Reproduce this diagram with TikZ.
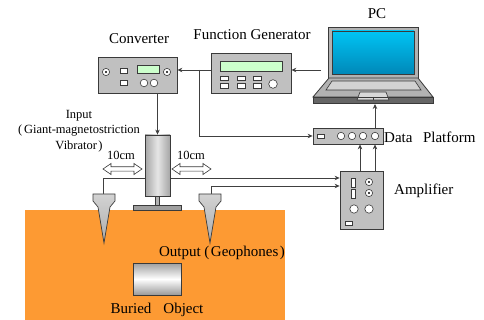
\documentclass[tikz,border=0pt]{standalone}
\usepackage{fontspec}
\setmainfont{Liberation Serif}
\usetikzlibrary{arrows.meta}
\definecolor{devfill}{HTML}{C0C0C0}
\definecolor{devline}{HTML}{3A3A3A}
\definecolor{wirecol}{HTML}{404040}
\definecolor{lcd}{HTML}{CCFFCC}
\definecolor{soil}{HTML}{FD9A33}
\definecolor{scrtop}{HTML}{00C4F4}
\definecolor{scrbot}{HTML}{0088B8}
\newcommand{\bigtxt}{\fontsize{15}{17}\selectfont}
\newcommand{\smalltxt}{\fontsize{12.5}{15.5}\selectfont}
% wide parentheses with a little air on their outer side
\newcommand{\fwl}{\hspace{0.25em}(\hspace{0.1em}}
\newcommand{\fwr}{\hspace{0.1em})\hspace{0.25em}}
\tikzset{
  device/.style={draw=devline, fill=devfill, line width=0.8pt, inner sep=0pt},
  knob/.style={draw=devline, fill=white, line width=0.6pt},
  keybox/.style={draw=devline, fill=white, line width=0.6pt},
  wire/.style={draw=wirecol, line width=0.7pt},
  arr/.style={wire, -{Stealth[length=5pt,width=4.5pt]}},
  label/.style={font=\bigtxt, inner sep=0pt},
  smalllabel/.style={font=\smalltxt, inner sep=0pt, align=center},
  hollowarrow/.style={draw=devline, fill=white, line width=0.6pt}
}
\newcommand{\dotknob}[1]{%
  \draw[knob] #1 circle (3.6);
  \fill[black] #1 circle (1.1);}
\begin{document}
\begin{tikzpicture}[x=1pt,y=-1pt]
\useasboundingbox (0,0) rectangle (484,320);

% ground
\fill[soil] (25,210) rectangle (285,320);

% ---------------- converter ----------------
\node[device, minimum width=79, minimum height=36] (conv) at (137.5,75) {};
\dotknob{(106,72)}
\dotknob{(167,72)}
\draw[keybox] (120,68) rectangle (127,73);
\draw[keybox] (120,80) rectangle (127,85);
\draw[keybox, fill=lcd] (137,65) rectangle (159,73);
\draw[knob] (144,83) circle (3.8);
\draw[knob] (154,83) circle (3.8);
\node[label] (convlab) at (139,39) {Converter};

% ---------------- function generator ----------------
\node[device, minimum width=80, minimum height=40] (fg) at (251,73) {};
\draw[keybox, fill=lcd] (220,61) rectangle (282,71);
\foreach \xx in {220,237,253}{
  \draw[keybox] (\xx,76) rectangle (\xx+8,80);
  \draw[keybox] (\xx,83) rectangle (\xx+8,88);
}
\draw[knob] (273,84) circle (4.3);
\node[label] (fglab) at (252,35) {Function Generator};

% ---------------- laptop ----------------
\node[device, fill=gray!60, minimum width=90, minimum height=51] (pc) at (373,52.5) {};
\draw[devline, line width=0.7pt, top color=scrtop, bottom color=scrbot] (332,31) rectangle (414,74);
\draw[devline, line width=0.8pt, fill=gray!60] (329,78) -- (418,78) -- (433,97) -- (313,97) -- cycle;
\draw[devline, line width=0.8pt, fill=gray!80!black] (313,97) rectangle (433,103);
\draw[devline, line width=0.6pt, fill=gray!35] (332,81) -- (415,81) -- (421,90) -- (326,90) -- cycle;
\draw[devline, line width=0.6pt, fill=gray!30] (360,92) -- (386,92) -- (389,100) -- (357,100) -- cycle;
\draw[devline, line width=0.5pt] (358,97) -- (388,97) (373,97) -- (373,100);
\coordinate (pcbase) at (375,104);
\node[label] (pclab) at (377,14) {PC};

% ---------------- data platform ----------------
\node[device, minimum width=70, minimum height=16] (dp) at (348,136) {};
\draw[keybox] (317,134) rectangle (324,138.5);
\foreach \xx in {341,352,363,375}{ \draw[knob] (\xx,136) circle (3.7); }
\node[label, anchor=west] (dplab) at (384,137) {Data\hspace{0.7em}Platform};

% ---------------- amplifier ----------------
\node[device, minimum width=43, minimum height=58] (amp) at (361.5,200) {};
\draw[keybox] (351,178) rectangle (355,187);
\draw[keybox] (351,189) rectangle (355,198);
\dotknob{(369,182)}
\dotknob{(369,193)}
\draw[knob] (354,209) circle (4.2);
\draw[knob] (369,209) circle (4.2);
\draw[keybox] (345,221) rectangle (352,225);
\node[label, anchor=west] (amplab) at (394,191) {Amplifier};

% ---------------- geophones and their leads ----------------
\coordinate (gl) at (103.5,194);
\coordinate (gr) at (211,194);
\coordinate (tapl) at (0,178);
\coordinate (tapr) at (0,186);
\draw[arr] (gl) -- (gl |- tapl) -- (amp.west |- tapl);
\draw[arr] (gr) -- (gr |- tapr) -- (amp.west |- tapr);
\foreach \gx in {93,199}{
  \draw[devline, line width=0.7pt, top color=gray!35, bottom color=gray!65]
    (\gx,194) -- (\gx+22,194) -- (\gx+22,201) -- (\gx+17,207) -- (\gx+11,243)
    -- (\gx+5,207) -- (\gx,201) -- cycle;
}

% ---------------- vibrator ----------------
\draw[devline, line width=0.7pt, fill=gray!60] (155.5,196) rectangle (159.5,205);
\draw[devline, line width=0.7pt, fill=gray!75] (133,205) rectangle (181,210);
\node[draw=devline, line width=0.8pt, minimum width=25, minimum height=61, inner sep=0pt,
      left color=gray!70, right color=gray!70, middle color=gray!20] (vib) at (157.5,165.5) {};
\node[smalllabel] (inlab) at (79,131) {Input\\(\hspace{0.15em}Giant-magnetostriction\\Vibrator\hspace{0.1em})\hspace{0.2em}};

% hollow double arrows with their distances
\foreach \ax in {103,172}{
  \draw[hollowarrow] (\ax,169) -- (\ax+8,163.5) -- (\ax+8,166.8) -- (\ax+31,166.8)
    -- (\ax+31,163.5) -- (\ax+39,169) -- (\ax+31,174.5) -- (\ax+31,171.2)
    -- (\ax+8,171.2) -- (\ax+8,174.5) -- cycle;
}
\node[smalllabel] (dl) at (121,155) {10cm};
\node[smalllabel] (dr) at (191,155) {10cm};

% ---------------- buried object ----------------
\node[draw=devline, line width=0.8pt, minimum width=48, minimum height=32, inner sep=0pt,
      top color=gray!75, bottom color=gray!80, middle color=white] (obj) at (157,279) {};
\node[label] (objlab) at (157,310) {Buried\hspace{0.8em}Object};
\node[label] (outlab) at (222,253) {Output\fwl Geophones\fwr};

% ---------------- signal connections ----------------
\coordinate (pcout) at (321,70);
\coordinate (split) at (199,70);
\coordinate (dpin) at (375,0);
\coordinate (amp1) at (360,0);
\draw[arr] (pcout) -- (fg.east |- pcout);
\draw[arr] (fg.west |- split) -- (conv.east |- split);
\draw[arr] (split) |- (dp.west);
\draw[arr] (vib.north |- conv.south) -- (vib.north);
\draw[arr] (dp.north -| dpin) -- (pcbase -| dpin);
\draw[arr] (amp.north -| amp1) -- (dp.south -| amp1);
\draw[arr] (amp.north -| dpin) -- (dp.south -| dpin);
\end{tikzpicture}
\end{document}
